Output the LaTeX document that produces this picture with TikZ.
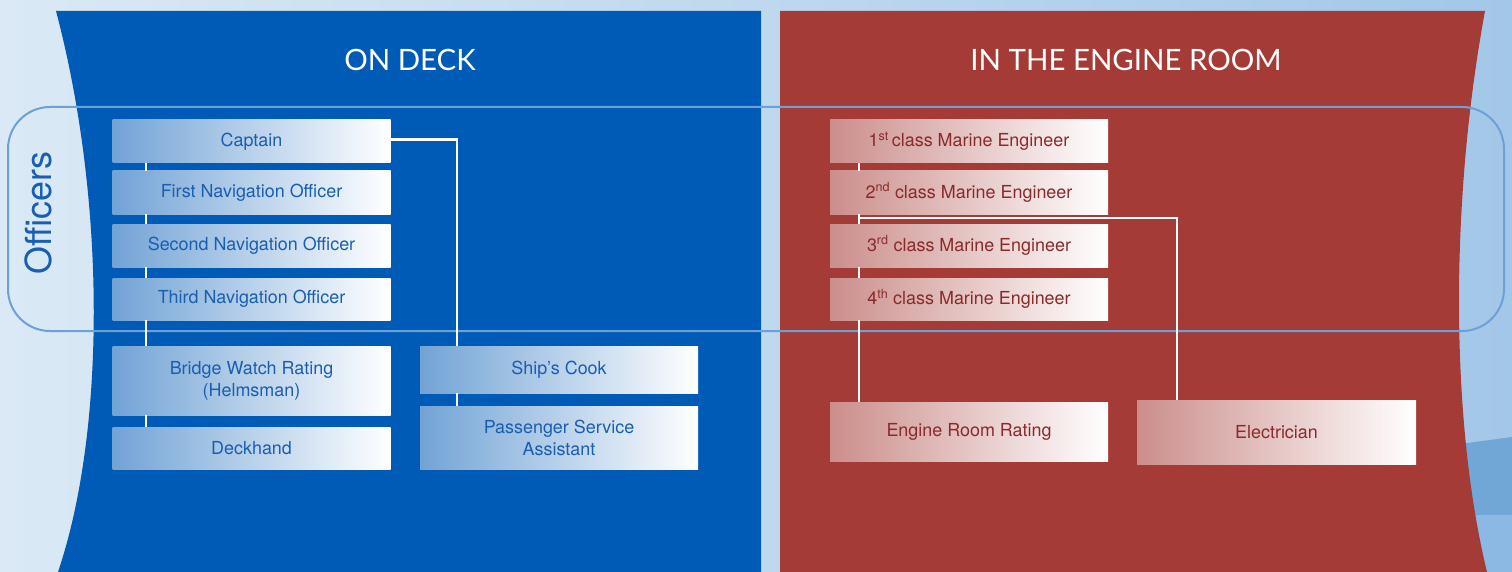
\documentclass[tikz,border=0pt]{standalone}
\usepackage{fontspec}
\setmainfont{TeX Gyre Heros}
\newfontfamily\titlefont{Lato}
\definecolor{bgL}{RGB}{218,233,245}
\definecolor{bgM}{RGB}{160,196,230}
\definecolor{bgR}{RGB}{163,199,232}
\definecolor{panelB}{RGB}{0,91,182}
\definecolor{panelR}{RGB}{165,59,55}
\definecolor{bxB}{RGB}{114,163,213}
\definecolor{bxR}{RGB}{203,142,139}
\definecolor{txB}{RGB}{26,94,176}
\definecolor{txR}{RGB}{138,42,42}
\definecolor{offline}{RGB}{110,160,216}
\definecolor{seaA}{RGB}{112,167,215}
\definecolor{seaB}{RGB}{139,185,227}
\tikzset{
  boxbase/.style={draw=none, inner sep=0pt, align=center, minimum width=278bp,
    font=\fontsize{18}{22}\selectfont},
  bluebox/.style={boxbase, left color=bxB, right color=white, text=txB},
  redbox/.style={boxbase, left color=bxR, right color=white, text=txR},
  conn/.style={draw=white, line width=2.2bp},
  titletext/.style={text=white, font=\titlefont\fontsize{29.5}{32}\selectfont},
}
\begin{document}
\begin{tikzpicture}[x=1bp,y=-1bp]
\useasboundingbox (0,0) rectangle (1512,572);
% background
\shade[left color=bgL, middle color=bgM, right color=bgR] (0,0) rectangle (1512,572);
\fill[seaA] (1430,448) -- (1512,437) -- (1512,572) -- (1430,572) -- cycle;
\fill[seaB] (1430,515) rectangle (1512,572);
% panels
\fill[panelB] (56,11) -- (761,11) -- (761,572) -- (58,572)
  .. controls (106,430) and (106,200) .. (56,11) -- cycle;
\fill[panelR] (780,11) -- (1485,11) .. controls (1450,200) and (1450,420) .. (1487,572)
  -- (780,572) -- cycle;
% titles
\node[titletext] (ondeck) at (410,60) {ON DECK};
\node[titletext] (engine) at (1126,60) {IN THE ENGINE ROOM};
% officers frame
\draw[offline, line width=2bp, rounded corners=42bp] (8,107) rectangle (1504,331);
\node[rotate=90, text=txB, font=\fontsize{36}{40}\selectfont] (officers) at (38,213) {Officers};
% deck boxes
\node[bluebox, minimum height=43bp] (captain) at (251.5,141.5) {Captain};
\node[bluebox, minimum height=43bp] (first) at (251.5,192.5) {First Navigation Officer};
\node[bluebox, minimum height=43bp] (second) at (251.5,245.5) {Second Navigation Officer};
\node[bluebox, minimum height=42bp] (third) at (251.5,299) {Third Navigation Officer};
\node[bluebox, minimum height=69bp] (bridge) at (251.5,380.5) {Bridge Watch Rating\\(Helmsman)};
\node[bluebox, minimum height=42bp] (deckhand) at (251.5,448) {Deckhand};
\node[bluebox, minimum height=47bp] (cook) at (559,369.5) {Ship’s Cook};
\node[bluebox, minimum height=63bp] (passenger) at (559,437.5) {Passenger Service\\Assistant};
% engine boxes
\node[redbox, minimum height=43bp] (e1) at (969,141.5) {1\textsuperscript{st}\,class Marine Engineer};
\node[redbox, minimum height=43bp] (e2) at (969,192.5) {2\textsuperscript{nd} class Marine Engineer};
\node[redbox, minimum height=43bp] (e3) at (969,245.5) {3\textsuperscript{rd} class Marine Engineer};
\node[redbox, minimum height=42bp] (e4) at (969,299) {4\textsuperscript{th} class Marine Engineer};
\node[redbox, minimum height=59bp] (err) at (969,431.5) {Engine Room Rating};
\node[redbox, minimum width=279bp, minimum height=64bp] (elec) at (1276.5,432) {Electrician};
% connectors deck
\draw[conn] ([xshift=34bp]captain.south west) -- ([xshift=34bp]first.north west);
\draw[conn] ([xshift=34bp]first.south west) -- ([xshift=34bp]second.north west);
\draw[conn] ([xshift=34bp]second.south west) -- ([xshift=34bp]third.north west);
\draw[conn] ([xshift=34bp]third.south west) -- ([xshift=34bp]bridge.north west);
\draw[conn] ([xshift=34bp]bridge.south west) -- ([xshift=34bp]deckhand.north west);
\draw[conn] ([yshift=2bp]captain.east) -| ([xshift=37bp]cook.north west);
\draw[conn] ([xshift=37bp]cook.south west) -- ([xshift=37bp]passenger.north west);
% connectors engine
\draw[conn] ([xshift=29bp]e1.south west) -- ([xshift=29bp]e2.north west);
\draw[conn] ([xshift=29bp]e2.south west) -- ([xshift=29bp]e3.north west);
\draw[conn] ([xshift=29bp]e3.south west) -- ([xshift=29bp]e4.north west);
\draw[conn] ([xshift=29bp]e4.south west) -- ([xshift=29bp]err.north west);
\draw[conn] ([xshift=29bp,yshift=-4bp]e2.south west) -| ([xshift=40bp]elec.north west);
\end{tikzpicture}
\end{document}
